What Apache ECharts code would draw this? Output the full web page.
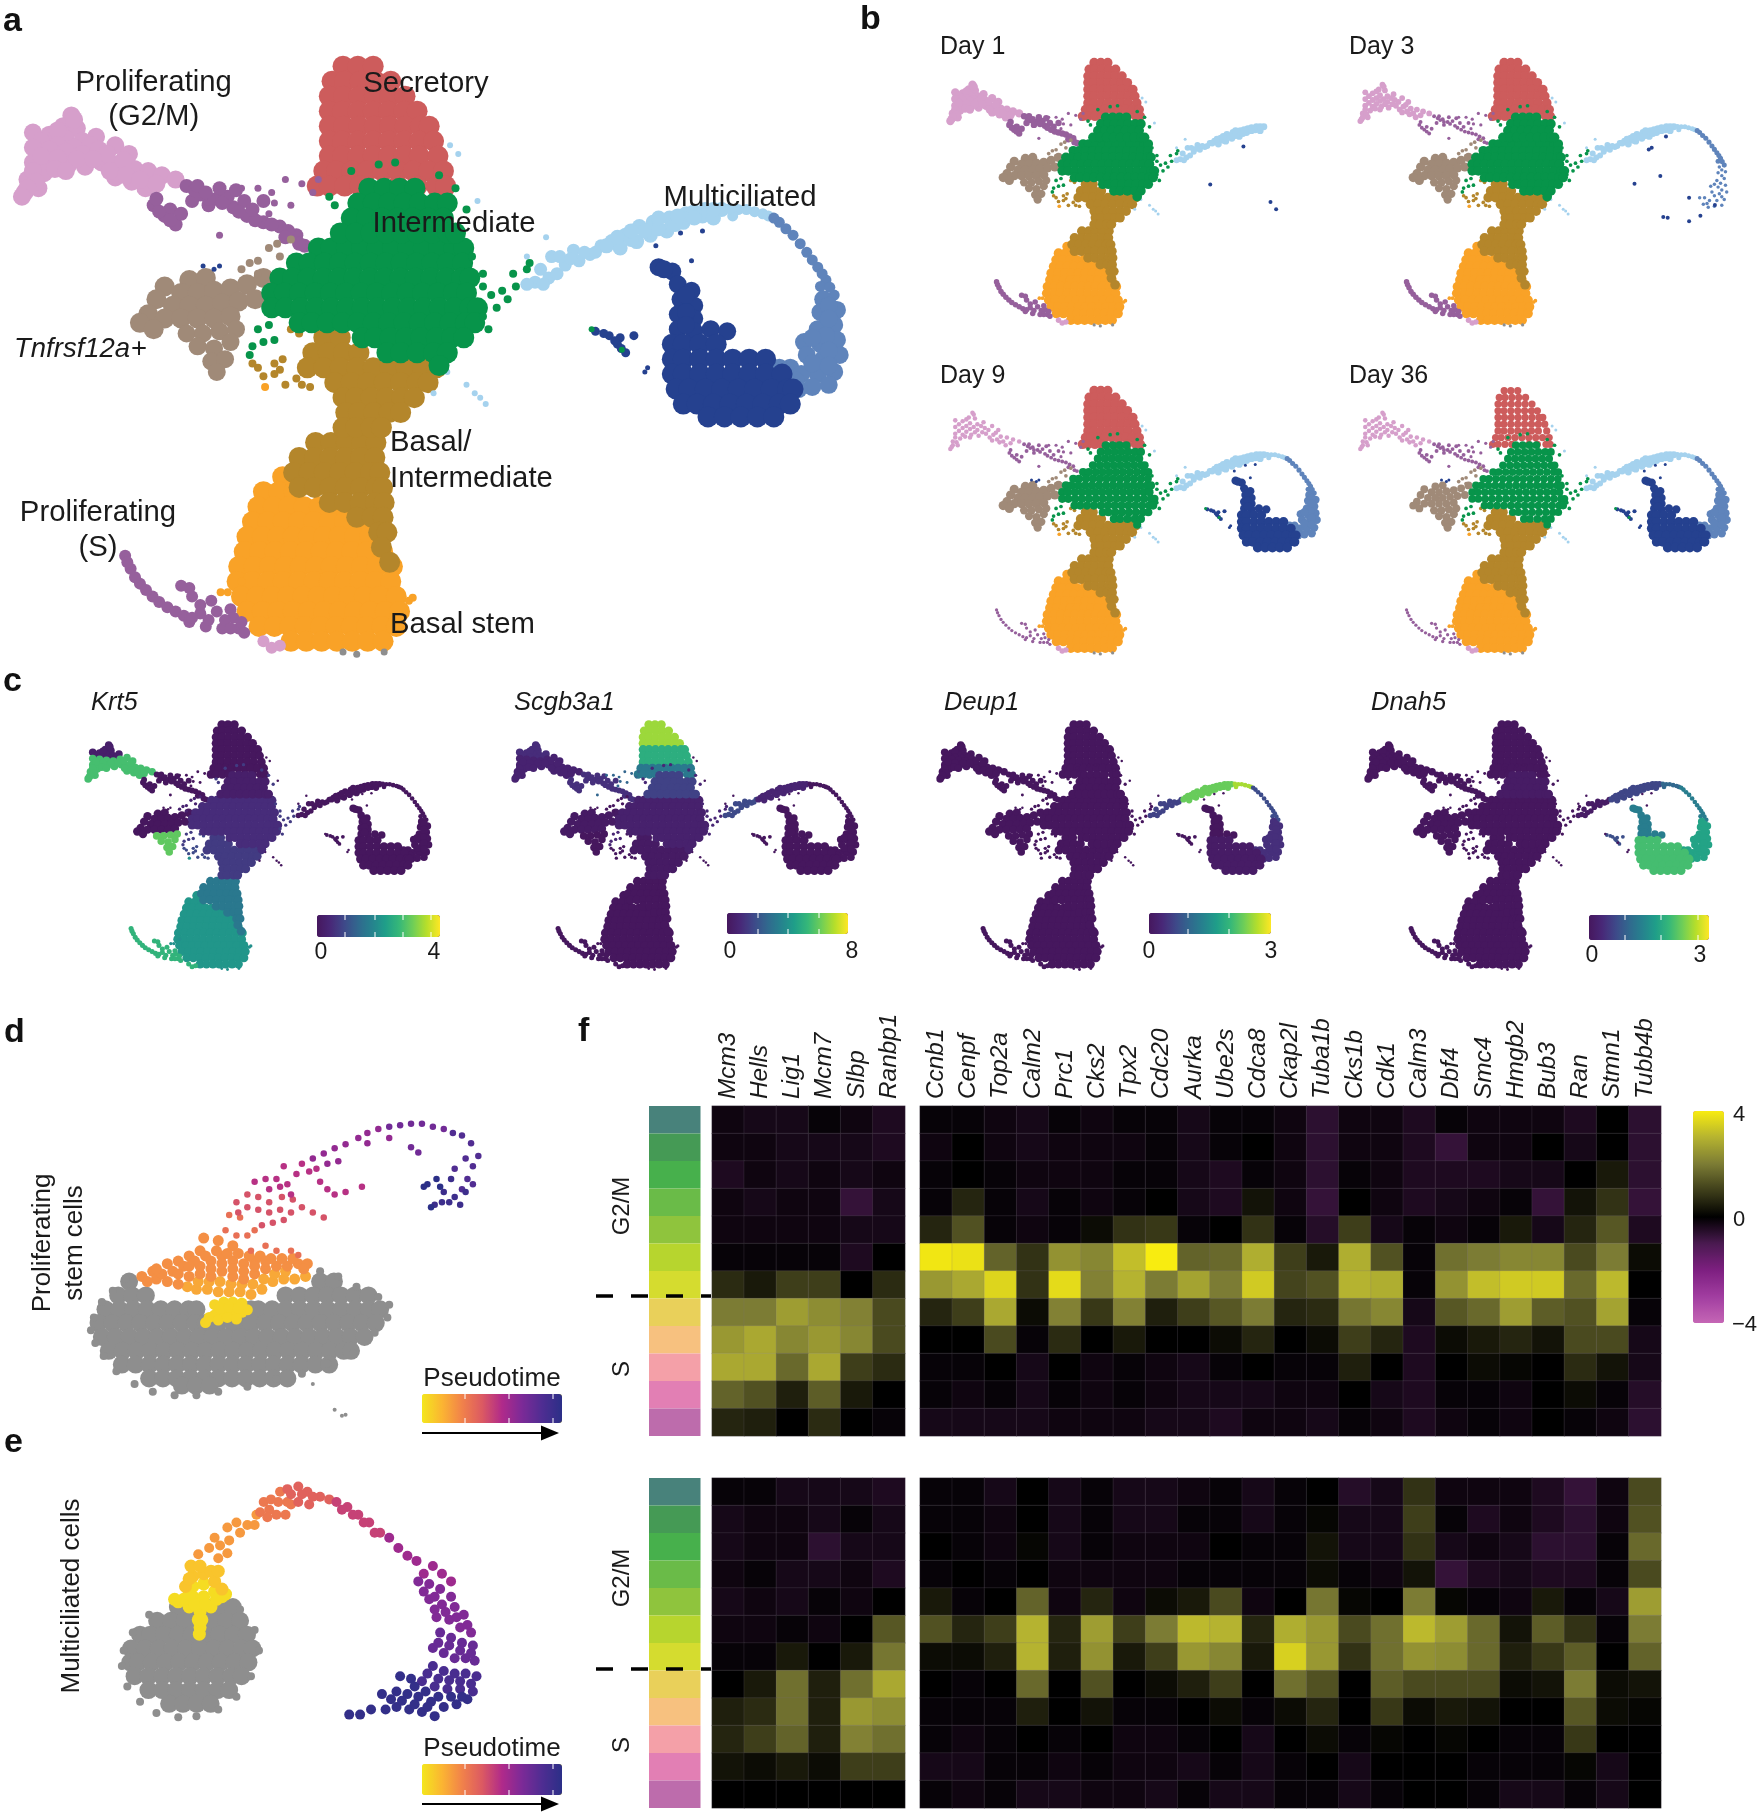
<!DOCTYPE html>
<html><head><meta charset="utf-8">
<style>html,body{margin:0;padding:0;background:#fff}#c{width:1759px;height:1813px}</style>
<script src="https://cdn.jsdelivr.net/npm/echarts@6/dist/echarts.min.js"></script>
</head><body><div id="c"></div>
<script>
// ---------- read helpers: rows are [y,[x,x,...]] ----------
const R = rows => rows.flatMap(([y, xs]) => xs.map(x => [x, y]));

// ---------- UMAP embedding, cells ----------
const orange = R([[1115,[515]],[1150,[480,508,536]],[1185,[470,498,526,554,582,610]],[1220,[460,488,516,544,572,600,628,656]],
[1255,[450,478,506,534,562,590,618,646,674]],[1290,[445,473,501,529,557,585,613,641,669,697]],
[1325,[435,463,491,519,547,575,603,631,659,687,715]],[1360,[432,460,488,516,544,572,600,628,656,684,712]],
[1395,[440,468,496,524,552,580,608,636,664,692,722]],[1430,[450,478,506,534,562,590,618,646,674,702,728]],
[1465,[472,500,528,556,584,612,640,668,696,722]],[1500,[530,558,586,614,642,670,698]]]);
const orangeStray = [[745,1405],[752,1398],[415,1385],[483,905],[402,1385],[440,1360]];
const goldUp = R([[790,[590,620]],[825,[570,598,626,654]],[860,[560,590,620,650,680,710,740,770,795]],
[895,[610,640,670,700,730,760,780]],[930,[625,648,676,704,732,755]],[965,[630,653,681,709,730]],[1000,[625,648,676,695]]]);
const goldLow = R([[1035,[575,603,631,659,685]],[1070,[545,573,601,629,657,683]],[1105,[535,563,591,619,647,675,692]],
[1140,[545,573,601,629,657,685,697]],[1175,[600,628,656,684,700]],[1210,[650,678,698]],[1245,[690,705]],[1280,[695]],[1315,[710]]]);
const goldStray = [[500,850],[480,880],[520,900],[470,860],[550,900],[460,850],[515,840],[545,780],[530,770],[500,875],[540,885],[565,905],[510,865]];
const redTop = R([[155,[625,652,680]],[190,[605,628,656,684,712]],[225,[600,626,654,682,710,738]],[260,[600,624,652,680,708,736,760]]]);
const redMid = R([[295,[600,626,654,682,710,738,766,782]],[330,[600,624,652,680,708,736,764,790]],[365,[600,624,652,680,708,736,764,798]]]);
const redLow = R([[400,[590,613,641,669,697,725,753,781,808]],[435,[578,600,628,656,725,760,795,812]]]);
const brownUp = [[345,655],[375,650],[300,670],[330,685],[360,685],[390,680],[420,675],[450,665],[480,650],[285,700],[315,715],[345,715],[375,715],[405,710],[435,705],[465,700],[270,735],[300,745],[330,745],[360,745],[390,745],[420,740],[255,755],[280,770]];
const brownLow = [[340,780],[370,780],[400,775],[430,770],[360,810],[390,815],[420,800],[385,845],[410,840],[395,870]];
const brownStray = [[470,610],[490,580],[510,600],[440,630],[530,560],[470,640],[455,615],[505,570]];
const pinkUp = [[130,270],[115,295],[140,300],[60,310],[90,315],[120,325],[150,330],[175,320],[105,305],[135,280],[75,330],[105,340],[135,345],[165,340]];
const pinkLow = [[60,345],[90,350],[120,355],[150,360],[180,350],[210,340],[235,360],[60,380],[90,385],[125,385],[155,390],[185,380],[215,385],[245,395],[270,400],[50,420],[80,405],[210,415],[240,425],[265,440],[295,410],[320,420],[45,450],[70,440],[195,360],[225,375],[75,365],[105,370],[140,372],[170,372],[200,400],[230,410],[255,420],[285,430],[60,400],[65,425],[50,440],[100,395],[40,460],[120,400]];
const pinkBit = [[480,1500],[510,1510],[495,1515]];
const greyBit = [[650,1530],[700,1525],[625,1525]];
const trail = [[280,480],[300,505],[320,525],[340,435],[365,455],[395,465],[425,485],[450,505],[415,460],[445,470],[350,470],[380,480],[480,520],[510,530],[540,550],[555,575],[310,490],[330,500],[290,495],[310,515],[355,445],[380,465],[405,475],[435,495],[465,515],[495,525],[525,540],[285,465],[400,440],[430,445],[360,435],[460,490],[520,555],[545,570],[375,450],[480,470]];
const trailStray = [[495,450],[520,420],[550,430],[500,475],[470,440],[440,440],[400,550],[490,500],[570,450],[580,420],[530,480]];
const purpleS = [[228,1300],[238,1330],[255,1365],[278,1395],[305,1420],[335,1440],[365,1435],[395,1430],[420,1425],[345,1375],[350,1395],[330,1370],[345,1455],[375,1465],[405,1470],[435,1470],[425,1445],[445,1480],[385,1405],[232,1315],[246,1350],[266,1380],[290,1408],[320,1430],[350,1445],[380,1450],[410,1450],[440,1455],[365,1415],[420,1470]];
const greenTop = R([[440,[672,700,728,756]],[475,[652,680,708,736,764,792,815]],[510,[640,668,696,724,752,780,808]],[545,[620,648,676,704,732,760,788,816,830]]]);
const greenLow = R([[580,[580,603,631,659,687,715,743,771,799,827,845]],[615,[540,563,591,619,647,675,703,731,759,787,815,843]],
[650,[510,533,561,589,617,645,673,701,729,757,785,813,841,856]],[685,[495,518,546,574,602,630,658,686,714,742,770,798,826,850]],
[720,[495,520,548,576,604,632,660,688,716,744,772,800,828,856,870]],[755,[545,568,596,624,652,680,708,736,764,792,820,848,865]],
[790,[660,683,711,739,767,795,823,845]],[825,[705,730,760,790,815]],[855,[800]]]);
const greenStray = [[860,600],[880,640],[895,690],[915,680],[935,640],[960,630],[925,700],[905,720],[880,740],[890,770],[455,830],[480,800],[470,770],[490,760],[610,480],[640,400],[690,385],[720,380],[800,410],[600,460],[830,440],[850,490],[940,670],[965,615],[880,670],[460,810],[500,795]];
const greenTri = [[1078,770],[1133,818]];
const light1 = [[975,660],[1000,650],[985,630],[1005,600],[1030,620],[1055,610],[1045,585],[1075,595],[1095,575],[960,665],[990,665],[1015,640],[1020,600],[1040,605],[1065,590],[1085,590]];
const light2 = [[1115,565],[1140,550],[1165,530],[1130,580],[1160,565],[1185,550],[1190,520],[1215,540],[1220,510],[1245,520],[1250,500],[1280,505],[1285,490],[1315,490],[1300,510],[1105,575],[1125,555],[1150,560],[1175,540],[1150,540],[1200,535],[1230,525],[1200,510],[1235,505],[1265,495],[1265,510],[1300,490]];
const light3 = [[1345,490],[1375,495],[1400,505],[1335,505],[1330,488],[1360,490],[1390,500]];
const lightStray = [[820,340],[835,360],[850,900],[865,920],[885,945],[870,470],[815,870],[790,920],[960,600],[995,555],[875,930]];
const midUp = [[1420,520],[1445,550],[1470,590],[1490,625],[1505,655],[1520,690],[1495,670],[1432,535],[1458,570],[1480,608],[1498,640],[1512,672],[1410,510]];
const midLow = [[1500,700],[1525,725],[1495,730],[1520,760],[1490,770],[1525,795],[1495,805],[1465,800],[1530,830],[1500,840],[1470,830],[1440,860],[1520,870],[1490,875],[1460,875],[1510,900],[1480,905],[1455,910],[1420,860],[1510,715],[1510,745],[1505,785],[1510,820],[1480,790],[1480,850],[1510,855],[1450,890],[1435,895]];
const darkNeck = [[1200,625],[1225,635],[1235,665],[1260,680],[1240,700],[1265,715],[1235,735],[1265,745],[1235,770],[1265,775],[1295,770],[1325,775],[1210,630],[1250,690],[1250,730],[1250,760]];
const darkBody = R([[805,[1225,1245,1275,1305]],[840,[1225,1245,1275,1305,1335,1365,1395]],[875,[1225,1245,1275,1305,1335,1365,1395,1425]],
[910,[1232,1255,1285,1315,1345,1375,1405,1435,1445]],[945,[1245,1270,1300,1330,1360,1390,1420,1440]],[975,[1290,1320,1350,1380,1410]]]);
const darkTri = [[1085,775],[1110,785],[1130,790],[1155,785],[1125,805],[1140,825],[1100,780],[1120,797],[1132,815]];
const darkStray = [[1180,860],[1175,870],[1240,545],[1280,540],[1195,575],[1260,610],[400,622],[370,622],[390,630]];
const day1Dark = [[1232,593],[1097,791],[1342,883],[1365,921]];
const day3Dark = [[1283,541],[1213,608],[1225,600],[1260,747],[1155,787],[1377,860],[1272,961],[1290,965],[1377,983],[1423,954],[1482,898]];

// ---------- pseudotime embeddings (panels d, e) ----------
const greyD = R([[530,[355,880,918]],[557,[325,363,401,785,823,861,899,937,975,1013]],
[584,[290,328,366,404,442,480,518,540,690,710,748,786,824,862,900,938,976,1014,1045]],
[611,[271,309,347,385,423,461,499,537,565,600,640,670,691,729,767,805,843,881,919,957,995,1033]],
[638,[280,318,356,394,432,470,508,546,584,622,660,698,736,774,812,850,888,926,964,1002]],
[665,[299,337,375,413,451,489,527,565,603,641,679,717,755,793,831,869,907,945,965]],
[692,[335,373,411,449,487,525,563,601,639,677,715,753,791,829,867,905]],
[719,[410,448,486,524,562,600,638,676,714,752,790]],[733,[500,538,576]]]);
const greyDEdge = [[250,625],[258,600],[280,570],[310,548],[345,525],[262,650],[285,675],[320,705],[370,730],[420,745],[480,752],[540,752],[600,745],[680,735],[760,720],[830,710],[900,690],[970,670],[1030,630],[1065,600],[1070,575],[1040,560],[980,540],[930,520],[880,510]];
const greyDStray = [[860,730],[940,792],[920,780],[950,790]];
const pseudoD = [
[.05,[[565,610],[590,595],[590,575],[615,590],[615,570],[640,590],[640,570],[665,590],[665,572],[680,585],[575,600],[600,605],[625,600],[650,603],[605,582],[630,580],[655,582]]],
[.18,[[600,550],[630,550],[660,550],[690,555],[720,545],[570,545],[540,545],[750,530],[780,525],[810,525],[840,520],[545,530],[575,530],[605,530],[635,535],[665,535],[695,535],[725,525],[755,515],[785,510],[515,540]]],
[.25,[[390,520],[420,510],[430,525],[460,495],[490,490],[460,530],[490,535],[520,520],[520,480],[550,470],[550,500],[580,490],[580,520],[610,510],[640,520],[670,525],[700,515],[730,505],[760,500],[790,500],[820,495],[845,495],[610,480],[640,490],[670,495],[700,490],[560,445],[600,450],[640,460],[405,530],[445,515],[475,510],[505,500],[535,490],[565,480],[595,470],[625,475],[655,475],[685,480],[715,480],[745,485],[775,485],[805,485],[835,505],[430,505],[490,515],[520,500],[550,515],[580,505],[610,495],[640,505],[670,510],[700,500],[730,490]]],
[.35,[[650,440],[680,440],[620,430],[730,460],[760,470],[800,470],[820,478],[690,470],[700,430],[660,405],[630,400]]],
[.45,[[650,375],[680,385],[710,390],[740,395],[770,390],[800,395],[830,385],[860,395],[890,405],[655,395],[720,420],[750,415],[780,410],[680,360],[710,365],[740,375],[775,365],[805,370]]],
[.55,[[700,335],[730,330],[760,330],[790,340],[815,320],[740,350],[770,345],[800,360],[780,305],[830,300],[850,315],[880,335],[900,350],[920,360],[950,355],[995,345],[870,310]]],
[.65,[[860,290],[890,280],[920,270],[950,262],[900,300],[930,295],[985,250],[1010,240],[1040,232],[1010,260],[1070,250]]],
[.75,[[1070,228],[1100,225],[1130,222],[1160,222],[1190,228],[1220,232],[1130,268],[1150,278]]],
[.85,[[1245,240],[1270,245],[1295,260],[1315,285],[1300,305],[1280,290],[1250,310],[1285,330],[1270,350],[1300,340]]],
[.93,[[1280,355],[1250,365],[1265,380],[1235,375],[1215,375],[1195,380],[1240,330],[1220,355]]],
[1,[[1175,340],[1200,330],[1210,345],[1185,385],[1165,345]]]];
const greyE = R([[1165,[489,527,565,603,640]],[1192,[432,470,508,546,584,622,660]],[1219,[385,413,451,489,527,565,603,641,679]],
[1246,[360,398,436,474,512,550,588,626,664,694]],[1273,[358,379,417,455,493,531,569,607,645,683]],
[1300,[370,408,446,484,522,560,598,636,664]],[1327,[408,446,484,522,560,598,630]],[1354,[465,503,541,579]]]);
const greyEEdge = [[340,1250],[335,1280],[350,1320],[385,1350],[430,1372],[490,1380],[540,1378],[600,1365],[650,1340],[690,1300],[712,1250],[700,1210],[660,1170],[620,1150],[480,1155],[410,1180],[365,1215]];
const pseudoE = [
[.03,[[490,1155],[520,1165],[550,1175],[580,1165],[610,1145],[530,1145],[560,1145],[590,1135],[550,1205],[548,1218],[530,1125],[560,1120],[505,1150],[535,1160],[565,1160],[595,1150],[545,1190],[555,1190],[520,1140],[480,1150],[620,1140]]],
[.1,[[510,1125],[530,1105],[560,1100],[590,1115],[610,1130],[525,1085],[550,1085],[580,1095],[520,1110],[600,1095]]],
[.22,[[545,1062],[575,1050],[605,1045],[600,1070],[630,1035],[625,1010],[650,1000],[680,1005],[705,985],[625,1060],[590,1030],[660,1020],[700,1005]]],
[.32,[[725,960],[745,955],[760,985],[785,985],[740,975],[770,940],[800,965],[715,980],[735,990],[765,960],[790,960]]],
[.4,[[790,935],[820,930],[845,940],[820,960],[850,965],[880,950],[905,955],[800,945],[830,945],[860,950]]],
[.5,[[925,960],[955,970],[985,985],[1015,1000],[1045,1020],[940,975],[970,985],[1000,1000],[1030,1020]]],
[.62,[[1070,1030],[1095,1050],[1120,1065],[1145,1075],[1165,1100],[1190,1085],[1215,1100],[1240,1115]]],
[.7,[[1150,1115],[1180,1120],[1210,1130],[1240,1145],[1180,1150],[1215,1160],[1250,1165],[1275,1180],[1200,1185],[1235,1190],[1265,1205],[1295,1215],[1165,1135],[1195,1145],[1225,1175],[1255,1185],[1285,1200],[1195,1170]]],
[.78,[[1210,1215],[1240,1225],[1270,1235],[1300,1240],[1190,1245],[1220,1255],[1250,1265],[1280,1265],[1305,1270],[1205,1235],[1235,1240],[1265,1250],[1295,1255]]],
[.88,[[1190,1280],[1220,1290],[1250,1295],[1280,1295],[1310,1300],[1160,1310],[1195,1320],[1230,1325],[1265,1325],[1300,1330],[1175,1295],[1205,1305],[1235,1308],[1265,1310],[1295,1315]]],
[.97,[[1100,1300],[1130,1305],[1090,1330],[1120,1335],[1150,1340],[1185,1350],[1220,1360],[1255,1355],[1285,1345],[1050,1335],[1060,1365],[1020,1365],[990,1375],[960,1375],[1090,1360],[1125,1365],[1160,1370],[1195,1378],[1140,1320],[1170,1330],[1205,1340],[1240,1340],[1270,1340],[1075,1345],[1105,1348],[1140,1355],[1175,1360]]]];

// ---------- gene expression per region of the embedding (unlisted = 0) ----------
const exprKrt5 = {orange:2.1,orangeStray:2,goldLow:1.6,goldUp:.7,goldStray:.9,greenLow:.5,greenStray:.7,greenTop:.2,pinkLow:2.8,pinkUp:.2,brownLow:3,brownStray:.3,purpleS:2.6,pinkBit:2.6,greyBit:2};
const exprScgb3a1 = {redTop:6.8,redMid:5,redLow:3.2,greenTop:1.6,greenLow:.5,greenStray:.8,trail:1.1,trailStray:2.6,pinkUp:1,pinkLow:.6,brownUp:.2,light1:1.8,light2:.7,goldUp:.2};
const exprDeup1 = {light1:.6,light2:2.3,light3:2.6,midUp:.7,midLow:.4,darkBody:.1};
const exprDnah5 = {light1:.1,light2:.7,light3:1.1,midUp:1.4,midLow:1.9,darkNeck:1.4,darkBody:2.3,darkTri:.8,greenTop:.1};

// ---------- heatmap ----------
const genesS = ['Mcm3','Hells','Lig1','Mcm7','Slbp','Ranbp1'];
const genesG2M = ['Ccnb1','Cenpf','Top2a','Calm2','Prc1','Cks2','Tpx2','Cdc20','Aurka','Ube2s','Cdca8','Ckap2l','Tuba1b','Cks1b','Cdk1','Calm3','Dbf4','Smc4','Hmgb2','Bub3','Ran','Stmn1','Tubb4b'];
const phaseColors = ['#48827b','#459a55','#47b04c','#6abb48','#8fc43d','#b7d52e','#d5dc2f','#e9d05a','#f7c17f','#f4a0a8','#e27fb4','#bd6cac'];
const heatTopS = [[-.2,-.3,-.3,-.1,-.2,-.4],[-.2,-.2,-.3,-.3,-.3,-.4],[-.4,-.2,-.3,-.2,-.3,-.2],[-.2,-.3,-.2,-.2,-.7,-.3],[-.2,-.2,-.2,-.2,-.3,-.3],[-.1,-.1,-.1,-.1,-.4,0],[.7,.4,1,1,0,.7],[2,2,2.6,2.3,2.1,1.2],[2.5,2.8,2.2,2.5,2.2,1.2],[2.8,2.8,1.7,2.8,1,.7],[1.6,1.3,.5,1.5,.4,0],[.6,.5,0,.7,0,-.1]];
const heatTopG = [
[-.1,-.1,-.2,-.3,-.1,-.2,-.1,-.1,-.3,-.1,-.1,-.2,-.6,-.2,-.2,-.4,-.1,-.2,-.2,-.2,-.4,0,-.6],
[-.2,0,-.2,-.3,-.2,-.2,-.2,-.1,-.3,-.1,0,-.2,-.6,-.2,-.2,-.4,-.7,-.2,-.2,0,-.3,0,-.6],
[-.1,0,-.1,-.2,-.2,-.2,-.1,-.1,-.3,-.4,-.1,-.2,-.6,-.1,-.2,-.4,-.4,-.4,-.3,-.3,0,.4,-.6],
[-.1,.6,-.1,-.3,-.1,-.2,-.1,0,-.3,-.4,.3,-.2,-.7,0,-.2,-.4,-.3,-.2,-.1,-.7,.3,.8,-.7],
[.6,1.3,-.1,-.2,-.1,.2,.8,.9,-.1,0,.8,-.1,-.5,1,-.3,-.1,-.2,-.1,.4,-.3,.6,1.4,-.4],
[3.9,3.8,1.6,.8,2.4,2.2,3.2,4,1.6,1.7,2.9,1,.4,2.9,1.3,-.1,1.8,2,2.2,2.2,1.2,2,.2],
[2.5,2.8,3.6,.8,3.7,2.1,3,2,2.7,2,3.4,1.1,1.3,3,2.9,-.1,2.4,3.2,3.4,3.4,1.7,3.1,0],
[.6,1,2.8,.2,2.1,.9,2.1,.5,1,1.4,2,.6,.7,1.9,2.2,-.3,1.4,1.7,2.6,1.5,1.3,2.7,-.1],
[0,0,1.2,-.1,.7,0,.4,0,0,.2,.6,0,.2,1,.6,-.4,.2,.4,.6,.3,1.2,1.2,-.3],
[-.1,-.1,0,-.3,0,-.2,-.1,-.2,-.3,-.1,0,-.1,-.1,.5,0,-.4,0,.2,.1,0,.7,.3,-.3],
[-.1,-.2,-.1,-.3,-.1,-.2,-.1,-.2,-.3,-.3,-.3,-.2,-.2,0,-.3,-.4,-.1,-.1,-.2,0,.2,-.1,-.5],
[-.3,-.3,-.3,-.3,-.2,-.2,-.2,-.3,-.3,-.4,-.2,-.2,-.3,-.1,-.2,-.4,-.2,-.1,-.2,0,-.1,-.2,-.6]];
const heatBotS = [[-.1,-.1,-.3,-.3,-.3,-.4],[-.3,-.2,-.2,-.3,-.1,-.3],[-.3,-.2,-.2,-.6,-.3,-.3],[-.2,-.1,-.3,-.3,-.2,-.4],[-.3,-.2,-.3,-.1,-.2,0],[-.2,-.2,-.1,-.2,0,1.4],[-.1,-.1,.4,0,.4,1.9],[0,.4,1.8,.5,1.8,2.8],[.5,.7,1.8,.5,2.5,2.3],[.6,1,1.6,.5,2.1,1.8],[.3,.2,.4,.2,1,1],[0,0,0,0,0,0]];
const heatBotG = [
[-.1,-.1,-.3,0,-.3,-.1,-.3,-.3,-.2,-.1,-.3,-.1,0,-.5,-.3,.8,-.2,-.2,-.2,-.4,-.7,-.2,1.2],
[-.1,-.1,-.2,0,-.3,-.1,-.3,-.3,-.1,-.1,-.3,-.1,.1,-.3,-.3,1,-.1,-.4,-.2,-.4,-.6,-.2,1.3],
[0,-.1,-.2,.1,-.3,-.1,-.2,-.2,-.2,0,-.1,-.1,.3,-.3,-.3,.8,-.3,-.2,-.3,-.6,-.6,-.1,1.7],
[-.1,0,-.1,0,-.2,-.2,-.2,-.2,-.1,-.1,-.1,-.1,.2,-.1,-.2,.3,-.7,-.4,-.3,-.4,-.4,-.1,1.2],
[.4,-.1,0,1.6,-.2,.6,-.2,.2,.4,1.2,-.2,0,1.9,.1,0,2,.1,-.1,-.2,.4,-.1,-.3,2.6],
[1.3,.6,1,3,.6,2.6,1,2,3.1,3,.6,2.9,2.5,1.2,1.8,3.1,2.6,1.7,.3,1.5,.8,-.1,2],
[.2,.2,.5,3,.5,2.4,.4,1,2.5,2.2,.4,3.5,2.5,.8,1.8,2.4,2.3,1.7,.5,.9,1.5,0,1.6],
[0,-.1,0,1.7,0,1.3,0,.2,.5,1,0,1.8,1.3,0,1.5,1.2,1.2,1.2,.2,.3,2,.2,.3],
[-.1,-.1,-.1,.5,0,.3,-.1,-.1,0,.2,-.1,.2,.6,0,.9,.2,.4,.3,0,0,1.4,.2,.1],
[-.1,-.2,-.1,0,-.1,0,-.2,-.2,-.1,0,-.3,0,.2,-.1,.1,0,.1,0,-.1,-.1,.9,0,0],
[-.3,-.3,-.1,-.1,-.2,-.1,-.2,-.2,-.3,-.1,-.3,-.1,0,-.3,0,0,0,-.1,-.1,-.1,.1,-.3,0],
[-.1,-.2,-.1,-.3,-.3,-.2,-.2,-.3,-.1,-.3,-.3,-.1,-.1,-.3,-.1,0,0,-.1,-.3,-.3,-.1,-.3,0]];

// ---------- styling ----------
const FONT = '"Liberation Sans",Arial,sans-serif';
const C = {red:'#cd5c5c',green:'#07944a',gold:'#b4862b',orange:'#f9a227',pink:'#d69fcb',purple:'#96609c',brown:'#a08a78',light:'#a5d2ee',mid:'#5f84bb',dark:'#25418f',grey:'#8e8e8e'};
const VIRIDIS = ['#46175e','#482878','#3e4989','#31688e','#26828e','#1f9e89','#35b779','#6ece58','#b5de2b','#fde725'];
const PLASMA = ['#f4e61e','#fbb532','#f1824a','#dc5a62','#b02a8a','#7c2a97','#4f2d92','#2b2f87'];
const HEAT = ['#c566b5','#a13da0','#7d1f80','#4a1a50','#000000','#3e3e1a','#7c7c34','#b5b330','#f8ec10'];

const segments = [
 ['orange',orange,C.orange,21],['orangeStray',orangeStray,C.orange,8],
 ['goldLow',goldLow,C.gold,21],['goldUp',goldUp,C.gold,21],['goldStray',goldStray,C.gold,8],
 ['redTop',redTop,C.red,21],['redMid',redMid,C.red,21],['redLow',redLow,C.red,21],
 ['pinkUp',pinkUp,C.pink,18],['pinkLow',pinkLow,C.pink,18],['pinkBit',pinkBit,C.pink,12],['greyBit',greyBit,C.grey,7],
 ['trail',trail,C.purple,14],['trailStray',trailStray,C.purple,7],['purpleS',purpleS,C.purple,12],
 ['brownUp',brownUp,C.brown,20],['brownLow',brownLow,C.brown,18],['brownStray',brownStray,C.brown,8],
 ['lightStray',lightStray,C.light,6],['light1',light1,C.light,13],['light2',light2,C.light,15],['light3',light3,C.light,11],
 ['midUp',midUp,C.mid,11],['midLow',midLow,C.mid,18],
 ['darkNeck',darkNeck,C.dark,18],['darkBody',darkBody,C.dark,21],['darkTri',darkTri,C.dark,9],['greenTri',greenTri,C.green,6],['darkStray',darkStray,C.dark,5],
 ['greenLow',greenLow,C.green,21],['greenTop',greenTop,C.green,21],['greenStray',greenStray,C.green,8]
];
const allSegs = segments.map(s => s[0]);
const except = (...n) => allSegs.filter(s => !n.includes(s));
const dayPanels = [
 {label:'Day 1',left:940.5,top:33,segs:except('midUp','midLow','darkNeck','darkBody','darkTri','greenTri','darkStray','light3'),dark:day1Dark,thin:{}},
 {label:'Day 3',left:1350.5,top:33,segs:except('darkNeck','darkBody','darkTri','greenTri','darkStray'),dark:day3Dark,thin:{trail:.6,pinkUp:.7,pinkLow:.7,midLow:.42}},
 {label:'Day 9',left:940.5,top:361,segs:allSegs,dark:[],thin:{trail:.6,pinkUp:.55,pinkLow:.55,greenLow:.85,greenTop:.85,purpleS:.6}},
 {label:'Day 36',left:1350.5,top:361,segs:allSegs,dark:[],thin:{trail:.6,pinkUp:.55,pinkLow:.55,greenLow:.8,greenTop:.8,redTop:.75,redMid:.75,redLow:.75,purpleS:.6,brownUp:.85}}
];
const genePanels = [
 {name:'Krt5',expr:exprKrt5,max:4,left:79,labelX:91,bar:[317,915,123,22],ticks:[345,375,403,431],lo:['0',321],hi:['4',434],labY:953},
 {name:'Scgb3a1',expr:exprScgb3a1,max:8,left:506,labelX:514,bar:[727,913,121,21],ticks:[758,788,819],lo:['0',730],hi:['8',852],labY:952},
 {name:'Deup1',expr:exprDeup1,max:3,left:931,labelX:944,bar:[1149,913,122,21],ticks:[1188,1229],lo:['0',1149],hi:['3',1271],labY:952},
 {name:'Dnah5',expr:exprDnah5,max:3.3,left:1359,labelX:1371,bar:[1589,915,120,25],ticks:[1625,1661,1698],lo:['0',1592],hi:['3',1700],labY:956}
];

// ---------- option assembly ----------
const grid = [], xAxis = [], yAxis = [], series = [], visualMap = [], graphic = [];
function addScatterGrid(left, top, w, h) {
  const i = grid.length;
  grid.push({left, top, width:w, height:h, containLabel:false});
  xAxis.push({type:'value', gridIndex:i, min:0, max:1567, show:false});
  yAxis.push({type:'value', gridIndex:i, min:0, max:1567, inverse:true, show:false});
  return i;
}
function scatter(i, data, color, size) {
  const s = {type:'scatter', xAxisIndex:i, yAxisIndex:i, data, symbol:'circle', symbolSize:size, silent:true, animation:false, itemStyle:{color, opacity:1}};
  series.push(s);
  return series.length - 1;
}
function text(t, x, y, o = {}) {
  graphic.push({type:'text', x, y, z:100, silent:true, rotation:o.rot || 0,
    style:{text:t, fill:o.fill || '#1a1a1a', font:`${o.italic ? 'italic ' : ''}${o.bold ? 'bold ' : ''}${o.size || 29.3}px ${FONT}`,
      textAlign:o.align || 'center', textVerticalAlign:'middle'}});
}
function line(x1, y1, x2, y2, stroke, lineWidth, lineDash) {
  graphic.push({type:'line', z:100, silent:true, shape:{x1,y1,x2,y2}, style:{stroke, lineWidth, lineDash}});
}
function colorbar(idx, min, max, colors, x, y, w, h, ticks, vertical) {
  visualMap.push({type:'continuous', seriesIndex:idx, dimension:2, min, max, calculable:false, hoverLink:false, padding:0,
    left:x, top:y, itemWidth:vertical ? w : h, itemHeight:vertical ? h : w, orient:vertical ? 'vertical' : 'horizontal',
    text:null, inRange:{color:colors}, outOfRange:{color:colors[0]}});
  (ticks || []).forEach(t => { line(t, y, t, y + 5, '#fff', 1); line(t, y + h - 5, t, y + h, '#fff', 1); });
}

// panel a
const gA = addScatterGrid(0, 0, 860, 670);
segments.forEach(([n, pts, col, size]) => scatter(gA, pts, col, size));
// panel b
dayPanels.forEach(d => {
  const g = addScatterGrid(d.left, d.top, 385.3, 300);
  segments.filter(s => d.segs.includes(s[0])).forEach(([n, pts, col, size]) => scatter(g, pts, col, Math.max(3, size * .46 * (d.thin[n] || 1))));
  if (d.dark.length) scatter(g, d.dark, C.dark, 4);
  text(d.label, d.left === 940.5 ? 940 : 1349, d.top === 33 ? 47 : 376, {size:25, align:'left'});
});
// panel c
genePanels.forEach(p => {
  const g = addScatterGrid(p.left, 697, 358, 279);
  const data = segments.flatMap(([n, pts, col, size]) => pts.map(q => [q[0], q[1], p.expr[n] || 0, Math.max(2.5, size * .42)]));
  const idx = scatter(g, data, VIRIDIS[0], v => v[3]);
  colorbar(idx, 0, p.max, VIRIDIS, p.bar[0], p.bar[1], p.bar[2], p.bar[3], p.ticks, false);
  text(p.name, p.labelX, 703, {size:25.5, italic:true, align:'left'});
  text(p.lo[0], p.lo[1], p.labY, {size:23});
  text(p.hi[0], p.hi[1], p.labY, {size:23});
});
// panels d, e
const gDE = addScatterGrid(0, 1010, 570, 803);
scatter(gDE, greyD, C.grey, 18);
scatter(gDE, greyDEdge, C.grey, 8);
scatter(gDE, greyDStray, C.grey, 4);
scatter(gDE, greyE, C.grey, 18);
scatter(gDE, greyEEdge, C.grey, 8);
const pdIdx = scatter(gDE, pseudoD.flatMap(([t, pts]) => pts.map(q => [q[0], q[1], t, t < .3 ? 11 : 6.5])), PLASMA[0], v => v[3]);
const peIdx = scatter(gDE, pseudoE.flatMap(([t, pts]) => pts.map(q => [q[0], q[1], t, t < .15 ? 13 : 10])), PLASMA[0], v => v[3]);
colorbar(pdIdx, 0, 1, PLASMA, 422, 1394, 140, 29, [465, 509, 553], false);
colorbar(peIdx, 0, 1, PLASMA, 422, 1764, 140, 31, [465, 509, 553], false);

// heatmaps
function addHeat(left, top, w, h, genes, rows, showLabels) {
  const i = grid.length;
  grid.push({left, top, width:w, height:h, containLabel:false});
  xAxis.push({type:'category', gridIndex:i, data:genes, position:'top', axisLine:{show:false}, axisTick:{show:false}, splitLine:{show:false},
    axisLabel:{show:showLabels, rotate:-90, interval:0, margin:7, fontStyle:'italic', fontSize:24.4, fontFamily:FONT, color:'#1a1a1a'}});
  yAxis.push({type:'category', gridIndex:i, data:rows.map((r, k) => k), inverse:true, show:false});
  series.push({type:'heatmap', xAxisIndex:i, yAxisIndex:i, silent:true, animation:false, progressive:0,
    data:rows.flatMap((r, y) => r.map((v, x) => [x, y, v])),
    itemStyle:{borderColor:'rgba(125,115,130,.4)', borderWidth:.5}, emphasis:{disabled:true}});
  return series.length - 1;
}
function addPhaseBar(top) {
  const i = grid.length;
  grid.push({left:649, top, width:51.5, height:330, containLabel:false});
  xAxis.push({type:'value', gridIndex:i, min:0, max:1, show:false});
  yAxis.push({type:'category', gridIndex:i, data:phaseColors.map((c, k) => k), inverse:true, show:false});
  series.push({type:'bar', xAxisIndex:i, yAxisIndex:i, barWidth:'100%', silent:true, animation:false,
    data:phaseColors.map(color => ({value:1, itemStyle:{color}}))});
}
addPhaseBar(1106); addPhaseBar(1478);
const heatIdx = [
  addHeat(712, 1106, 193, 330, genesS, heatTopS, true),
  addHeat(920, 1106, 741, 330, genesG2M, heatTopG, true),
  addHeat(712, 1478, 193, 330, genesS, heatBotS, false),
  addHeat(920, 1478, 741, 330, genesG2M, heatBotG, false)
];
colorbar(heatIdx, -4, 4, HEAT, 1693, 1111, 31, 212, null, true);

// labels
[['a',3,22],['b',860,20],['c',3,682],['d',4,1033],['e',4,1443],['f',578,1032]].forEach(([t, x, y]) => text(t, x, y, {size:34, bold:true, align:'left', fill:'#111'}));
[['Proliferating',153.7,83],['(G2/M)',153.7,117],['Secretory',426,83.5],['Intermediate',454,224],['Multiciliated',740,198],['Proliferating',98,513],['(S)',98,548]]
  .forEach(([t, x, y]) => text(t, x, y));
text('Tnfrsf12a', 14, 349, {italic:true, align:'left', size:27.5});
text('+', 131, 349, {align:'left', size:27.5});
[['Basal/',390,443],['Intermediate',390,479],['Basal stem',390,625]].forEach(([t, x, y]) => text(t, x, y, {align:'left'}));
text('Proliferating', 43, 1243, {size:26, rot:Math.PI / 2});
text('stem cells', 75, 1243, {size:26, rot:Math.PI / 2});
text('Multiciliated cells', 72, 1596, {size:26, rot:Math.PI / 2});
[[1379,1433],[1749,1804]].forEach(([ty, ay]) => {
  text('Pseudotime', 492, ty, {size:26});
  line(422, ay, 545, ay, '#000', 2);
  graphic.push({type:'polygon', z:100, silent:true, shape:{points:[[541,ay - 7.5],[559,ay],[541,ay + 7.5]]}, style:{fill:'#000'}});
});
[[1206,1369,1296],[1578,1745,1669]].forEach(([g, s, d]) => {
  text('G2/M', 622, g, {size:24, rot:Math.PI / 2});
  text('S', 622, s, {size:24, rot:Math.PI / 2});
  line(596, d, 711, d, '#000', 3.5, [17, 18]);
});
text('4', 1733, 1115, {size:22, align:'left'});
text('0', 1733, 1220, {size:22, align:'left'});
text('\u22124', 1732, 1325, {size:22, align:'left'});

const chart = echarts.init(document.getElementById('c'), null, {renderer:'canvas', width:1759, height:1813});
chart.setOption({animation:false, backgroundColor:'#fff', grid, xAxis, yAxis, series, visualMap, graphic:{elements:graphic}, tooltip:{show:false}});
</script></body></html>
